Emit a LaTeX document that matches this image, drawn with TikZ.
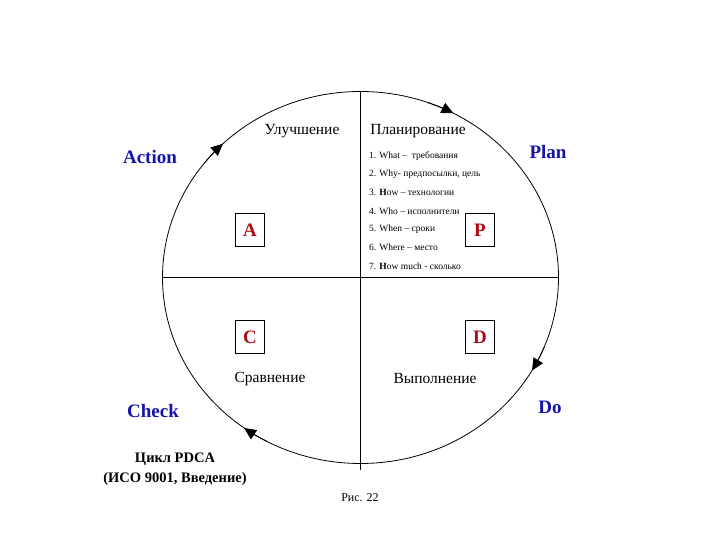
\documentclass[tikz,border=0pt]{standalone}
\usepackage{fontspec}
\setmainfont{Liberation Serif}
\usetikzlibrary{arrows.meta}
\definecolor{pblue}{RGB}{20,20,170}
\definecolor{pred}{RGB}{175,10,20}
\begin{document}
\begin{tikzpicture}[x=1pt,y=1pt,
  lbl/.style={font=\fontsize{15.5}{17}\selectfont},
  eng/.style={font=\fontsize{19}{21}\selectfont\bfseries, text=pblue},
  item/.style={font=\fontsize{9.5}{11}\selectfont, anchor=west, inner sep=0pt},
  letter/.style={draw, font=\fontsize{19}{20}\selectfont\bfseries, text=pred, minimum width=29pt, minimum height=33pt, inner sep=0pt},
  arr/.style={-{Triangle[length=12pt,width=11pt]}, line width=0.8pt}]
\useasboundingbox (0,0) rectangle (720,540);
\coordinate (O) at (360.5,262.5);
\draw[line width=0.8pt] (O) ellipse [x radius=198, y radius=186];
\coordinate (T) at (360.5,448.5);
\coordinate (B) at (360.5,70);
\coordinate (L) at (162.5,262.5);
\coordinate (R) at (558.5,262.5);
\draw[line width=0.8pt] (T) -- (B);
\draw[line width=0.8pt] (L) -- (R);
\foreach \a/\b in {70/62, 142/134, -22/-30, -118/-126}
  \draw[arr] ([shift={(\a:198 and 186)}]O) arc[start angle=\a, end angle=\b, x radius=198, y radius=186];
\node[lbl] (u) at (302,409) {Улучшение};
\node[lbl] (p) at (418,409) {Планирование};
\node[eng] (ac) at (150,383) {Action};
\node[eng] (pl) at (548,388) {Plan};
\node[eng] (do) at (550,133) {Do};
\node[eng] (ch) at (153,129) {Check};
\node[item] (i1) at (369,384) {1. What – \ требования};
\node[item] (i2) at (369,366) {2. Why- предпосылки, цель};
\node[item] (i3) at (369,348) {3. \textbf{H}ow – технологии};
\node[item] (i4) at (369,329) {4. Who – исполнители};
\node[item] (i5) at (369,311) {5. When – сроки};
\node[item] (i6) at (369,293) {6. Where – место};
\node[item] (i7) at (369,274) {7. \textbf{H}ow much - сколько};
\node[letter] (A) at (250,310) {A};
\node[letter] (P) at (480,310) {P};
\node[letter] (C) at (250,203) {C};
\node[letter] (D) at (480,203) {D};
\node[lbl] (s) at (270,161) {Сравнение};
\node[lbl] (v) at (435,161) {Выполнение};
\node[font=\fontsize{14.5}{20}\selectfont\bfseries, align=center] (cy) at (175,71) {Цикл PDCA\\(ИСО 9001, Введение)};
\node[font=\fontsize{12}{13}\selectfont] (fig) at (360,42) {Рис. 22};
\end{tikzpicture}
\end{document}
